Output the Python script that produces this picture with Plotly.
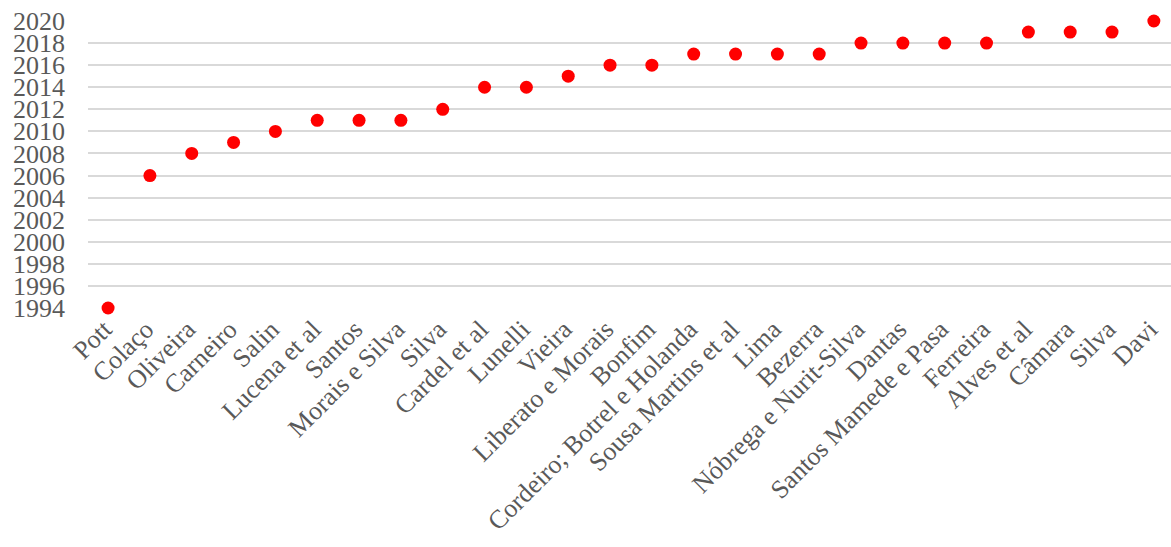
import plotly.graph_objects as go

authors = ["Pott", "Colaço", "Oliveira", "Carneiro", "Salin", "Lucena et al", "Santos",
           "Morais e Silva", "Silva", "Cardel et al", "Lunelli", "Vieira", "Liberato e Morais",
           "Bonfim", "Cordeiro; Botrel e Holanda", "Sousa Martins et al", "Lima", "Bezerra",
           "Nóbrega e Nurit-Silva", "Dantas", "Santos Mamede e Pasa", "Ferreira", "Alves et al",
           "Câmara", "Silva", "Davi"]
years = [1994, 2006, 2008, 2009, 2010, 2011, 2011, 2011, 2012, 2014, 2014, 2015, 2016,
         2016, 2017, 2017, 2017, 2017, 2018, 2018, 2018, 2018, 2019, 2019, 2019, 2020]
year_ticks = list(range(1994, 2021, 2))

positions = list(range(len(authors)))

fig = go.Figure(go.Scatter(
    x=positions, y=years, mode="markers",
    marker=dict(color="#ff0000", size=13),
    cliponaxis=False,
))

font = dict(family="Liberation Serif, Times New Roman, serif", size=26, color="#595959")

fig.update_layout(
    width=1171, height=547,
    margin=dict(l=88, r=0, t=21, b=239),
    plot_bgcolor="white", paper_bgcolor="white",
    showlegend=False,
    font=font,
)
fig.update_xaxes(
    tickvals=positions, ticktext=authors, tickangle=-45,
    range=[-0.48, 25.41], showgrid=False, zeroline=False, showline=False,
    tickfont=font, ticks="", ticklabelshift=-4,
)
fig.update_yaxes(
    tickvals=year_ticks, range=[1994, 2020], showgrid=True, gridcolor="#d9d9d9",
    gridwidth=1.5, zeroline=False, showline=False, tickfont=font,
    ticklabelstandoff=22,
)

fig.write_html("out.html")
